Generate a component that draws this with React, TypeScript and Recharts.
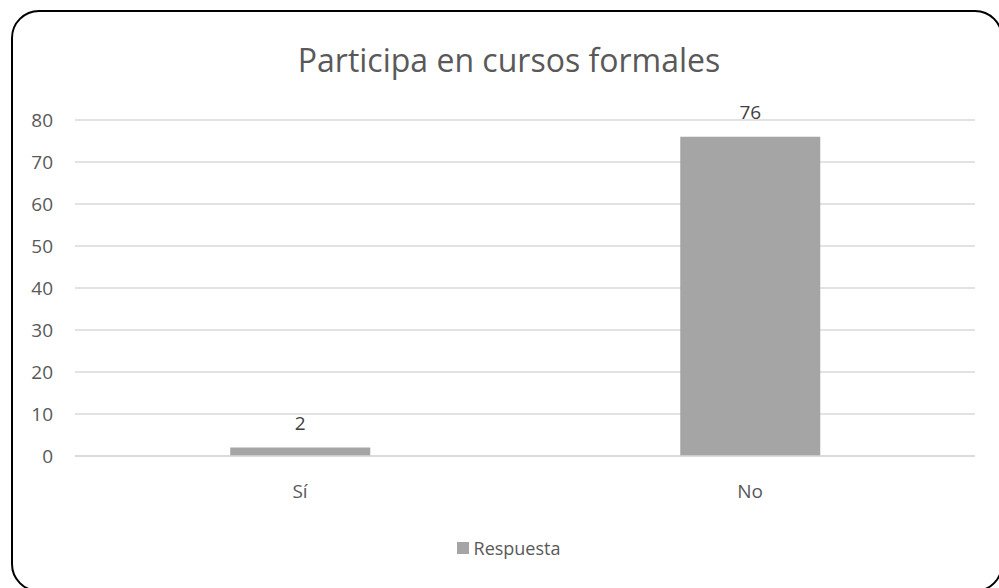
import React from 'react';
import {
  BarChart,
  Bar,
  XAxis,
  YAxis,
  CartesianGrid,
  Legend,
  LabelList,
} from 'recharts';

const categorias = ['Sí', 'No'];
const respuestas = [2, 76];
const yTicks = [0, 10, 20, 30, 40, 50, 60, 70, 80];

const FONT = '"Open Sans", sans-serif';
const TEXT = '#595959';

const data = categorias.map((c, i) => ({ categoria: c, respuesta: respuestas[i] }));

function LegendaCuadro() {
  return (
    <div
      style={{
        display: 'flex',
        justifyContent: 'center',
        alignItems: 'center',
        fontFamily: FONT,
        fontSize: 18,
        color: TEXT,
        paddingLeft: 42,
      }}
    >
      <span
        style={{
          display: 'inline-block',
          width: 12,
          height: 12,
          background: '#a5a5a5',
          marginRight: 5,
        }}
      />
      Respuesta
    </div>
  );
}

export default function App() {
  return (
    <div
      style={{
        position: 'absolute',
        left: 0,
        top: 0,
        width: 999,
        height: 588,
        overflow: 'hidden',
        background: '#fff',
      }}
    >
      <div
        style={{
          position: 'absolute',
          left: 11,
          top: 10,
          width: 992,
          height: 582,
          border: '2px solid #000',
          borderRadius: 28,
          boxSizing: 'border-box',
        }}
      />
      <div
        style={{
          position: 'absolute',
          left: 0,
          top: 38,
          width: 1018,
          textAlign: 'center',
          fontFamily: FONT,
          fontSize: 32,
          color: TEXT,
        }}
      >
        Participa en cursos formales
      </div>
      <div style={{ position: 'absolute', left: 0, top: 0 }}>
        <BarChart
          width={999}
          height={588}
          data={data}
          barCategoryGap="34.5%"
          margin={{ top: 120, right: 24, left: 0, bottom: 28 }}
        >
          <CartesianGrid vertical={false} stroke="#d9d9d9" strokeWidth={1.3} />
          <XAxis
            dataKey="categoria"
            axisLine={{ stroke: '#d9d9d9', strokeWidth: 1.3 }}
            tickLine={false}
            tickSize={0}
            tickMargin={29}
            height={80}
            tick={{ fill: TEXT, fontSize: 19, fontFamily: FONT }}
          />
          <YAxis
            width={75}
            domain={[0, 80]}
            ticks={yTicks}
            interval={0}
            axisLine={false}
            tickLine={false}
            tickSize={0}
            tickMargin={22}
            tick={{ fill: TEXT, fontSize: 19, fontFamily: FONT }}
          />
          <Legend verticalAlign="bottom" height={24} content={<LegendaCuadro />} />
          <Bar dataKey="respuesta" name="Respuesta" fill="#a5a5a5" isAnimationActive={false}>
            <LabelList
              dataKey="respuesta"
              position="top"
              offset={18}
              fill="#404040"
              fontSize={19}
              fontFamily={FONT}
            />
          </Bar>
        </BarChart>
      </div>
    </div>
  );
}
